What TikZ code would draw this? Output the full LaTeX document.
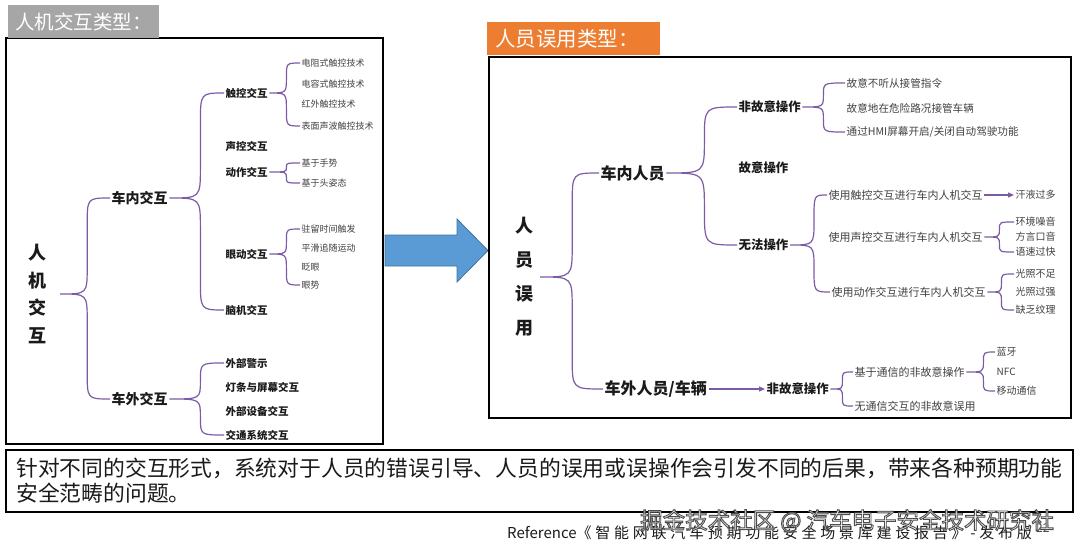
\documentclass[tikz,border=0pt]{standalone}
\usepackage{fontspec}
\setmainfont{Noto Sans CJK SC}
\usetikzlibrary{arrows.meta,positioning,calc}
\definecolor{ink}{HTML}{1A1A1A}
\definecolor{leafgray}{HTML}{404040}
\definecolor{branch}{HTML}{7B5AA6}
\definecolor{titlegray}{HTML}{A6A6A6}
\definecolor{titleorange}{HTML}{ED7D31}
\definecolor{arrowblue}{HTML}{5B9BD5}
\definecolor{arrowedge}{HTML}{41719C}

\tikzset{
  panel/.style={draw=black, line width=1.6pt},
  titlebox/.style={anchor=north west, text=white, inner xsep=7pt, inner ysep=0pt,
    minimum height=33pt, align=left, font=\fontsize{#1}{#1}\selectfont},
  rootword/.style={text=ink, align=center, font=\fontsize{18}{#1}\selectfont\bfseries},
  hub/.style={anchor=west, inner sep=1.5pt, text=ink, font=\fontsize{#1}{#1}\selectfont\bfseries},
  leaf/.style={anchor=west, inner sep=1.5pt, text=leafgray, font=\fontsize{#1}{#1}\selectfont},
  brace/.style={draw=branch, line width=1.2pt, to path={
    let \p1=(\tikztostart), \p2=(\tikztotarget),
        \n1={ifthenelse(\y2>\y1,1,-1)}, \n2={min(#1,abs(\y2-\y1)/2)} in
    (\p1) .. controls (\x1+#1pt,\y1) .. (\x1+#1pt,\y1+\n1*\n2)
    -- (\x1+#1pt,\y2-\n1*\n2) .. controls (\x1+#1pt,\y2) .. (\p2)}},
  pointer/.style={draw=branch, line width=1.2pt, -{Triangle[length=6pt,width=5pt]}}
}

\begin{document}
\begin{tikzpicture}[x=1pt, y=-1pt]
  \useasboundingbox (0,0) rectangle (1080,551);

  % left panel: kinds of interaction
  \draw[panel] (6,38) rectangle (383,444);
  \node[titlebox=19.5, fill=titlegray] (lefttitle) at (8,5) {人机交互类型：};

  \node[rootword=27.5, inner xsep=14pt] (hmi) at (37,294) {人\\机\\交\\互};
  \node[hub=14] (inside) at (110,198) {车内交互};
  \node[hub=14] (outside) at (110,399) {车外交互};
  \draw[brace=27] (hmi.east) to (inside.west) (hmi.east) to (outside.west);

  \node[hub=10.5] (touch) at (224,93) {触控交互};
  \node[hub=10.5] (voice) at (224,146) {声控交互};
  \node[hub=10.5] (gesture) at (224,172) {动作交互};
  \node[hub=10.5] (eye) at (224,254) {眼动交互};
  \node[hub=10.5] (brain) at (224,310) {脑机交互};
  \draw[brace=31] (inside.east) to (touch.west) (inside.east) to (brain.west);

  \node[leaf=9] (tk1) at (300,63) {电阻式触控技术};
  \node[leaf=9] (tk2) at (300,84) {电容式触控技术};
  \node[leaf=9] (tk3) at (300,104) {红外触控技术};
  \node[leaf=9] (tk4) at (300,126) {表面声波触控技术};
  \draw[brace=17] (touch.east) to (tk1.west) (touch.east) to (tk4.west);

  \node[leaf=9] (gs1) at (300,163) {基于手势};
  \node[leaf=9] (gs2) at (300,183) {基于头姿态};
  \draw[brace=17] (gesture.east) to (gs1.west) (gesture.east) to (gs2.west);

  \node[leaf=9] (ey1) at (300,229) {驻留时间触发};
  \node[leaf=9] (ey2) at (300,248) {平滑追随运动};
  \node[leaf=9] (ey3) at (300,267) {眨眼};
  \node[leaf=9] (ey4) at (300,285) {眼势};
  \draw[brace=17] (eye.east) to (ey1.west) (eye.east) to (ey4.west);

  \node[hub=10.5] (ex1) at (224,363) {外部警示};
  \node[hub=10.5] (ex2) at (224,387) {灯条与屏幕交互};
  \node[hub=10.5] (ex3) at (224,411) {外部设备交互};
  \node[hub=10.5] (ex4) at (224,435) {交通系统交互};
  \draw[brace=31] (outside.east) to (ex1.west) (outside.east) to (ex4.west);

  % block arrow between the panels
  \draw[fill=arrowblue, draw=arrowedge, line width=0.8pt]
    (385,235) -- (457,235) -- (457,219) -- (488,250.5) -- (457,282) -- (457,266) -- (385,266) -- cycle;

  % right panel: kinds of misuse
  \draw[panel] (489,57) rectangle (1071,418);
  \node[titlebox=20.5, fill=titleorange, text width=157pt, inner xsep=8pt] (righttitle) at (487,22) {人员误用类型：};

  \node[rootword=34, inner xsep=7pt] (misuse) at (524,277) {人\\员\\误\\用};
  \node[hub=16] (crew) at (599,173) {车内人员};
  \node[hub=16] (others) at (603,389) {车外人员/车辆};
  \draw[brace=32] (misuse.east) to (crew.west) (misuse.east) to (others.west);

  \node[hub=12.4] (unint) at (737,107) {非故意操作};
  \node[hub=12.4] (intent) at (737,168) {故意操作};
  \node[hub=12.4] (unable) at (737,245) {无法操作};
  \draw[brace=38] (crew.east) to (unint.west) (crew.east) to (unable.west);

  \node[leaf=10.6] (ui1) at (845,83) {故意不听从接管指令};
  \node[leaf=10.6] (ui2) at (845,108) {故意地在危险路况接管车辆};
  \node[leaf=10.6] (ui3) at (845,132) {通过HMI屏幕开启/关闭自动驾驶功能};
  \draw[brace=21] (unint.east) to (ui1.west) (unint.east) to (ui3.west);

  \node[leaf=11] (ua1) at (827,195) {使用触控交互进行车内人机交互};
  \node[leaf=11] (ua2) at (827,237) {使用声控交互进行车内人机交互};
  \node[leaf=11] (ua3) at (830,292) {使用动作交互进行车内人机交互};
  \draw[brace=24] (unable.east) to (ua1.west) (unable.east) to (ua3.west);

  \node[leaf=10] (sweat) at (1014,195) {汗液过多};
  \draw[pointer] (ua1.east) -- (sweat.west);

  \node[leaf=10] (vc1) at (1014,222) {环境噪音};
  \node[leaf=10] (vc2) at (1014,237) {方言口音};
  \node[leaf=10] (vc3) at (1014,252) {语速过快};
  \draw[brace=15] (ua2.east) to (vc1.west) (ua2.east) to (vc3.west);

  \node[leaf=10] (lt1) at (1014,274) {光照不足};
  \node[leaf=10] (lt2) at (1014,292) {光照过强};
  \node[leaf=10] (lt3) at (1014,310) {缺乏纹理};
  \draw[brace=14] (ua3.east) to (lt1.west) (ua3.east) to (lt3.west);

  \node[hub=12.4] (outunint) at (765,389) {非故意操作};
  \draw[pointer] (others.east) -- (outunint.west);

  \node[leaf=11] (co1) at (853,372) {基于通信的非故意操作};
  \node[leaf=11] (co2) at (853,406) {无通信交互的非故意误用};
  \draw[brace=12] (outunint.east) to (co1.west) (outunint.east) to (co2.west);

  \node[leaf=10] (ln1) at (995,352) {蓝牙};
  \node[leaf=10] (ln2) at (995,372) {NFC};
  \node[leaf=10] (ln3) at (995,391) {移动通信};
  \draw[brace=17] (co1.east) to (ln1.west) (co1.east) to (ln3.west);

  % summary and footer
  \draw[panel] (6,450) rectangle (1073,512);
  \node[anchor=north west, inner sep=0pt, align=left, text=ink,
    font=\fontsize{21.8}{25}\selectfont] (summary) at (16,458)
    {针对不同的交互形式，系统对于人员的错误引导、人员的误用或误操作会引发不同的后果，带来各种预期功能\\安全范畴的问题。};

  \node[anchor=west, inner sep=0pt, text=ink, font=\fontsize{15}{15}\selectfont] (source) at (507,533)
    {Reference{\addfontfeatures{LetterSpace=25}《智能网联汽车预期功能安全场景库建设报告》-发布版}};
  \node[anchor=west, inner sep=0pt, text=leafgray, font=\fontsize{12}{12}\selectfont] (pageno) at (1036,528) {22};

  \node[anchor=west, inner sep=0pt, text=white, font=\fontsize{22.5}{22.5}\selectfont] (wmark) at (640,521)
    {\special{pdf:literal direct 0.3 G 0.9 w 2 Tr}掘金技术社区 @ 汽车电子安全技术研究社\special{pdf:literal direct 0 Tr}};
\end{tikzpicture}
\end{document}
